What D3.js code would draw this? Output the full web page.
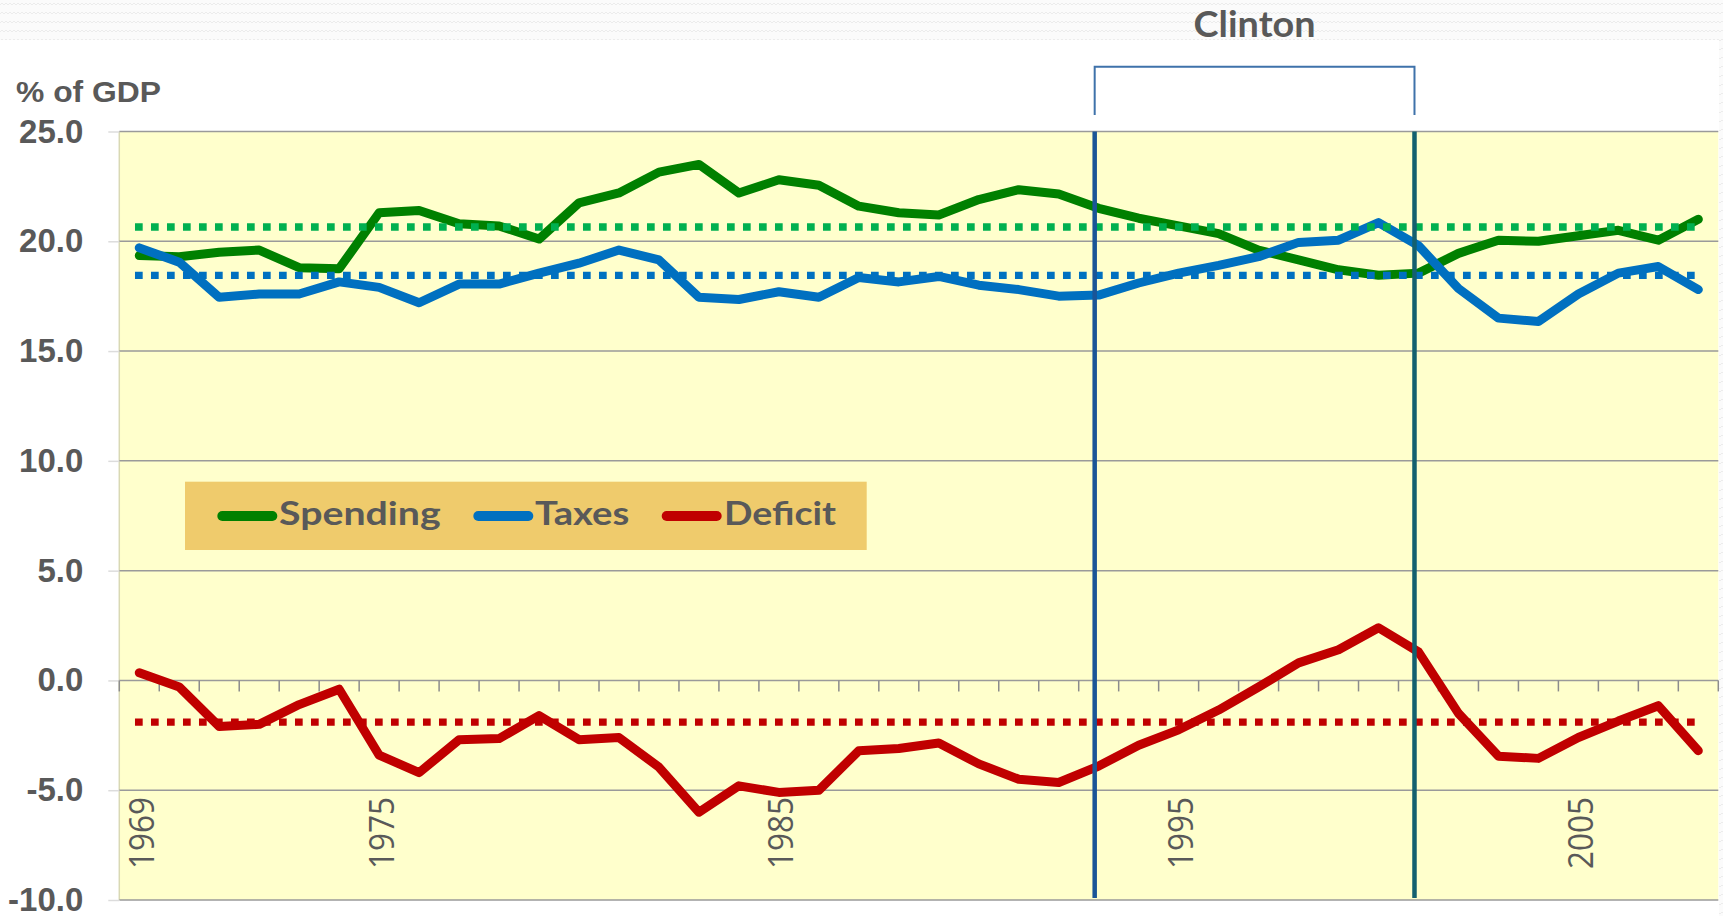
<!DOCTYPE html>
<html><head><meta charset="utf-8">
<script src="https://cdn.jsdelivr.net/npm/d3@7"></script>
<style>
body{margin:0;background:#fff;}
svg{display:block;}
</style>
</head><body>
<svg id="chart" width="1723" height="916"></svg>
<script>
// ---------- data ----------
const years = [1969,1970,1971,1972,1973,1974,1975,1976,1977,1978,1979,1980,
  1981,1982,1983,1984,1985,1986,1987,1988,1989,1990,
  1991,1992,1993,1994,1995,1996,1997,1998,1999,2000,
  2001,2002,2003,2004,2005,2006,2007,2008];
const spending = [19.35,19.3,19.5,19.6,18.8,18.75,21.3,21.4,20.8,20.7,20.1,21.75,
  22.2,23.15,23.5,22.2,22.8,22.55,21.6,21.3,21.2,21.9,
  22.35,22.15,21.5,21.05,20.7,20.35,19.6,19.15,18.7,18.45,
  18.55,19.45,20.05,20.0,20.25,20.5,20.05,21.0];
const taxes = [19.7,19.05,17.45,17.6,17.6,18.15,17.9,17.2,18.05,18.05,18.55,19.0,
  19.6,19.15,17.45,17.35,17.7,17.45,18.35,18.15,18.4,18.0,
  17.8,17.5,17.55,18.1,18.55,18.9,19.3,19.95,20.05,20.85,
  19.8,17.85,16.5,16.35,17.6,18.55,18.85,17.8];
const deficit = [0.35,-0.3,-2.1,-2.0,-1.1,-0.4,-3.4,-4.2,-2.7,-2.65,-1.6,-2.7,
  -2.6,-3.95,-6.0,-4.8,-5.1,-5.0,-3.2,-3.1,-2.85,-3.8,
  -4.5,-4.65,-3.9,-2.95,-2.25,-1.35,-0.3,0.8,1.4,2.4,
  1.3,-1.5,-3.45,-3.55,-2.6,-1.85,-1.15,-3.2];
const seriesNames = ["Spending","Taxes","Deficit"];
const averages = [20.65, 18.45, -1.9];
const yTicks = [25,20,15,10,5,0,-5,-10];
const yearLabels = [1969,1975,1985,1995,2005];
const clintonYears = [1992.9, 2000.9];
const clintonLabel = "Clinton";
const yAxisTitle = "% of GDP";

// ---------- styles ----------
const lineColors = ["#008000","#0070C0","#C00000"];
const avgColors = ["#00B050","#0070C0","#C00000"];
const textColor = "#595959";

const svg = d3.select("#chart");
const W = 1723, H = 916;
const pL = 119.3, pR = 1718.3, pT = 131.5, pB = 900;

// texture pattern (top band)
const defs = svg.append("defs");
const pat = defs.append("pattern").attr("id","tex").attr("width",8).attr("height",9)
  .attr("patternUnits","userSpaceOnUse");
pat.append("rect").attr("width",8).attr("height",9).attr("fill","#fbfbfb");
pat.append("path").attr("d","M0 5 L2 3 L4 5 L6 3 L8 5").attr("fill","none")
  .attr("stroke","#ececec").attr("stroke-width",1);
svg.append("rect").attr("x",0).attr("y",0).attr("width",W).attr("height",40).attr("fill","url(#tex)");
svg.append("rect").attr("x",1719).attr("y",40).attr("width",4).attr("height",H-40).attr("fill","url(#tex)");

// scales
const x = d3.scaleBand().domain(years).range([pL, pR]).padding(0);
const cx = d => x(d) + x.bandwidth()/2;
const xl = d3.scaleLinear().domain([years[0]-0.5, years[years.length-1]+0.5]).range([pL, pR]);
const y = d3.scaleLinear().domain([-10,25]).range([pB, pT]);

// plot background
svg.append("rect").attr("x",pL).attr("y",pT).attr("width",pR-pL).attr("height",pB-pT)
  .attr("fill","#FFFFCC");
svg.append("line").attr("x1",pL).attr("x2",pL).attr("y1",pT).attr("y2",pB)
  .attr("stroke","#d9d9b4").attr("stroke-width",1.5);

// gridlines
svg.append("g").selectAll("line").data(yTicks).join("line")
  .attr("x1",pL).attr("x2",pR).attr("y1",d=>y(d)).attr("y2",d=>y(d))
  .attr("stroke","#9a9a9a").attr("stroke-width",1.5);

// y axis
const yAxis = d3.axisLeft(y).tickValues(yTicks).tickSize(11).tickPadding(25)
  .tickFormat(d => d.toFixed(1));
const gy = svg.append("g").attr("transform",`translate(${pL},0)`).call(yAxis);
gy.select(".domain").remove();
gy.selectAll(".tick line").attr("stroke","#dcdcdc").attr("stroke-width",1.5);
gy.selectAll(".tick text").attr("fill",textColor)
  .style("font-family","'Liberation Sans', Arial, sans-serif").style("font-weight","bold")
  .style("font-size","33px");

// category ticks along 0 line (band boundaries)
const tickPos = years.map(d => x(d)).concat([pR]);
svg.append("g").selectAll("line").data(tickPos).join("line")
  .attr("x1",d=>d).attr("x2",d=>d).attr("y1",y(0)).attr("y2",y(0)+11)
  .attr("stroke","#8c8c8c").attr("stroke-width",1.5);

// year labels
svg.append("g").selectAll("text").data(yearLabels).join("text")
  .attr("transform", d => `translate(${cx(d)+1},797) rotate(-90)`)
  .attr("text-anchor","end").attr("dominant-baseline","central")
  .attr("textLength",72).attr("lengthAdjust","spacingAndGlyphs")
  .attr("fill",textColor)
  .style("font-family","'Open Sans', Lato, sans-serif").style("font-size","35px")
  .text(d => d);

// y axis title
svg.append("text").attr("x",16).attr("y",101.5).attr("fill",textColor)
  .attr("textLength",145).attr("lengthAdjust","spacingAndGlyphs")
  .style("font-family","'Liberation Sans', Arial, sans-serif").style("font-weight","bold")
  .style("font-size","30px").text(yAxisTitle);

// legend
const legG = svg.append("g");
legG.append("rect").attr("x",185).attr("y",481.7).attr("width",681.7).attr("height",68.3).attr("fill","#EFCB6C");
const legItems = [
  {name:seriesNames[0], color:lineColors[0], lx:217.3, tx:279, tw:161.7},
  {name:seriesNames[1], color:lineColors[1], lx:473.3, tx:535, tw:94.3},
  {name:seriesNames[2], color:lineColors[2], lx:661.7, tx:724, tw:112}
];
legItems.forEach(it => {
  legG.append("line").attr("x1",it.lx+5).attr("x2",it.lx+55).attr("y1",516).attr("y2",516)
    .attr("stroke",it.color).attr("stroke-width",10).attr("stroke-linecap","round");
  legG.append("text").attr("x",it.tx).attr("y",525).attr("fill",textColor)
    .attr("textLength",it.tw).attr("lengthAdjust","spacingAndGlyphs")
    .style("font-family","Lato, 'Open Sans', sans-serif").style("font-weight","bold")
    .style("font-size","33px").text(it.name);
});

// series lines
const allSeries = [spending, taxes, deficit];
const line = d3.line().x((d,i)=>cx(years[i])).y(d=>y(d));
svg.append("g").selectAll("path").data(allSeries).join("path")
  .attr("d", d => line(d)).attr("fill","none")
  .attr("stroke",(d,i)=>lineColors[i]).attr("stroke-width",9)
  .attr("stroke-linejoin","round").attr("stroke-linecap","round");

// average dotted lines
svg.append("g").selectAll("line").data(averages).join("line")
  .attr("x1", cx(years[0]) - 4.3).attr("x2", cx(years[years.length-1]) - 3)
  .attr("y1", d=>y(d)).attr("y2", d=>y(d))
  .attr("stroke",(d,i)=>avgColors[i]).attr("stroke-width",7.3)
  .attr("stroke-dasharray","7.7 8.3");

// Clinton vertical lines
const vColors = ["#1a5597","#13606f"];
svg.append("g").selectAll("line").data(clintonYears).join("line")
  .attr("x1",d=>xl(d)).attr("x2",d=>xl(d)).attr("y1",pT).attr("y2",pB-2)
  .attr("stroke",(d,i)=>vColors[i]).attr("stroke-width",4.5);

// bracket
const bx1 = xl(clintonYears[0]), bx2 = xl(clintonYears[1]);
svg.append("path").attr("d",`M${bx1},115 V66.7 H${bx2} V115`).attr("fill","none")
  .attr("stroke","#3f72aa").attr("stroke-width",2);
svg.append("text").attr("x",(bx1+bx2)/2).attr("y",36.7).attr("text-anchor","middle")
  .attr("textLength",122).attr("lengthAdjust","spacingAndGlyphs")
  .attr("fill",textColor)
  .style("font-family","Lato, 'Open Sans', sans-serif").style("font-weight","bold")
  .style("font-size","37px").text(clintonLabel);
</script>
</body></html>
